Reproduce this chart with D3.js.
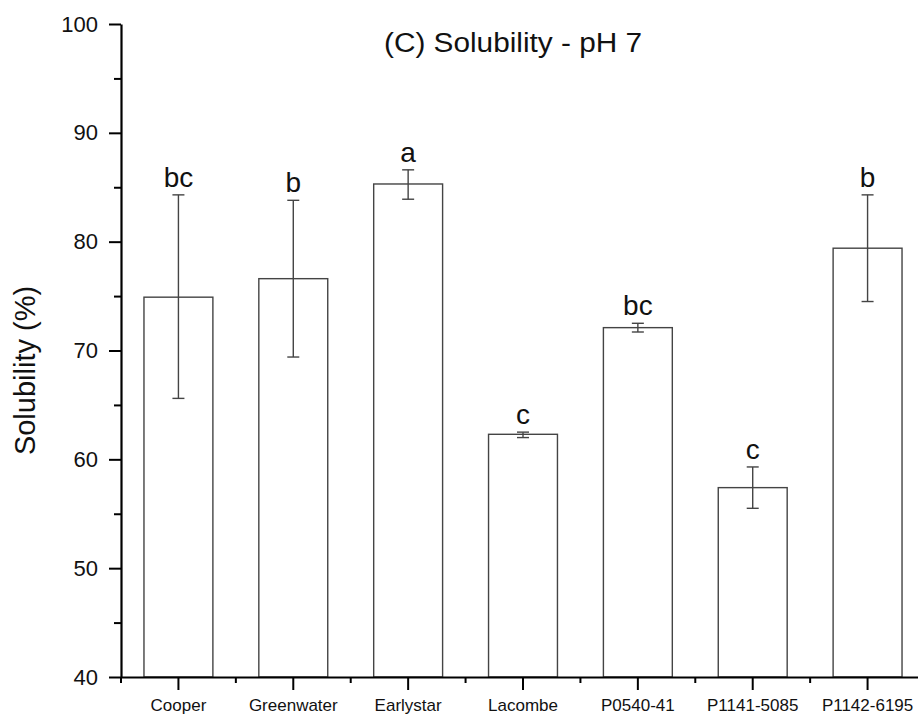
<!DOCTYPE html>
<html>
<head>
<meta charset="utf-8">
<script src="https://cdn.jsdelivr.net/npm/d3@7"></script>
<style>
  html, body { margin: 0; padding: 0; background: #fff; }
  svg { display: block; }
  text { font-family: "Liberation Sans", Arial, sans-serif; fill: #111; }
</style>
</head>
<body>
<svg id="chart" width="918" height="719"></svg>
<script>
// Solubility at pH 7 for each cultivar / line (mean with error bars)
const categories = ["Cooper", "Greenwater", "Earlystar", "Lacombe", "P0540-41", "P1141-5085", "P1142-6195"];
const means      = [74.9, 76.6, 85.3, 62.3, 72.1, 57.4, 79.4];
const errLow     = [65.6, 69.4, 83.9, 62.0, 71.7, 55.5, 74.5];
const errHigh    = [84.3, 83.8, 86.6, 62.5, 72.5, 59.3, 84.3];
const groups     = ["bc", "b", "a", "c", "bc", "c", "b"];
const yTicks     = [40, 50, 60, 70, 80, 90, 100];
const yMinorTicks = [45, 55, 65, 75, 85, 95];

const svg = d3.select("#chart");
const plotLeft = 121, plotRight = 925, plotTop = 24, plotBottom = 677;

const x = d3.scaleBand().domain(categories).range([plotLeft, plotRight]).paddingInner(0.4).paddingOuter(0.2);
const y = d3.scaleLinear().domain([40, 100]).range([plotBottom, plotTop]);

const rows = categories.map((c, i) => ({ c, m: means[i], lo: errLow[i], hi: errHigh[i], g: groups[i] }));

// Bars
svg.append("g").selectAll("rect").data(rows).join("rect")
  .attr("x", d => x(d.c))
  .attr("y", d => y(d.m))
  .attr("width", x.bandwidth())
  .attr("height", d => y(40) - y(d.m))
  .attr("fill", "#fff")
  .attr("stroke", "#444")
  .attr("stroke-width", 1.4);

// Error bars
const eb = svg.append("g").attr("stroke", "#444").attr("stroke-width", 1.4);
rows.forEach(d => {
  const cx = x(d.c) + x.bandwidth() / 2;
  eb.append("line").attr("x1", cx).attr("x2", cx).attr("y1", y(d.lo)).attr("y2", y(d.hi));
  eb.append("line").attr("x1", cx - 6).attr("x2", cx + 6).attr("y1", y(d.lo)).attr("y2", y(d.lo));
  eb.append("line").attr("x1", cx - 6).attr("x2", cx + 6).attr("y1", y(d.hi)).attr("y2", y(d.hi));
});

// Significance letters
svg.append("g").selectAll("text").data(rows).join("text")
  .attr("x", d => x(d.c) + x.bandwidth() / 2)
  .attr("y", d => y(d.hi) - 8)
  .attr("text-anchor", "middle")
  .attr("font-size", 28)
  .text(d => d.g);

// Y axis
const yAxis = d3.axisLeft(y).tickValues(yTicks).tickSize(12).tickPadding(11).tickSizeOuter(0);
const gy = svg.append("g").attr("transform", `translate(${plotLeft},0)`).call(yAxis);
gy.select(".domain").attr("stroke", "#000").attr("stroke-width", 2.2);
gy.selectAll(".tick line").attr("stroke", "#000").attr("stroke-width", 2);
gy.selectAll(".tick text").attr("font-size", 22).attr("font-family", "Liberation Sans, Arial, sans-serif").attr("fill", "#111");
const gyMinor = svg.append("g").attr("transform", `translate(${plotLeft},0)`)
  .call(d3.axisLeft(y).tickValues(yMinorTicks).tickSize(7).tickFormat(""));
gyMinor.select(".domain").remove();
gyMinor.selectAll(".tick line").attr("stroke", "#000").attr("stroke-width", 2);

// X axis
const xAxis = d3.axisBottom(x).tickSize(13).tickPadding(9).tickSizeOuter(0);
const gx = svg.append("g").attr("transform", `translate(0,${plotBottom})`).call(xAxis);
gx.select(".domain").attr("stroke", "#000").attr("stroke-width", 2.2);
gx.selectAll(".tick line").attr("stroke", "#000").attr("stroke-width", 2);
gx.selectAll(".tick text").attr("font-size", 17).attr("font-family", "Liberation Sans, Arial, sans-serif").attr("fill", "#222");
// Minor ticks on the band boundaries
const boundaries = categories.map(c => x(c) - x.step() * x.paddingInner() / 2);
svg.append("g").selectAll("line").data(boundaries).join("line")
  .attr("x1", d => d).attr("x2", d => d)
  .attr("y1", plotBottom).attr("y2", plotBottom + 6)
  .attr("stroke", "#000").attr("stroke-width", 2);

// Axis title
svg.append("text")
  .attr("transform", `translate(35,${(plotTop + plotBottom) / 2 + 20}) rotate(-90)`)
  .attr("text-anchor", "middle")
  .attr("font-size", 29)
  .text("Solubility (%)");

// Chart title
svg.append("text")
  .attr("x", 513).attr("y", 52)
  .attr("text-anchor", "middle")
  .attr("font-size", 27)
  .attr("textLength", 258)
  .attr("lengthAdjust", "spacingAndGlyphs")
  .text("(C) Solubility - pH 7");
</script>
</body>
</html>
